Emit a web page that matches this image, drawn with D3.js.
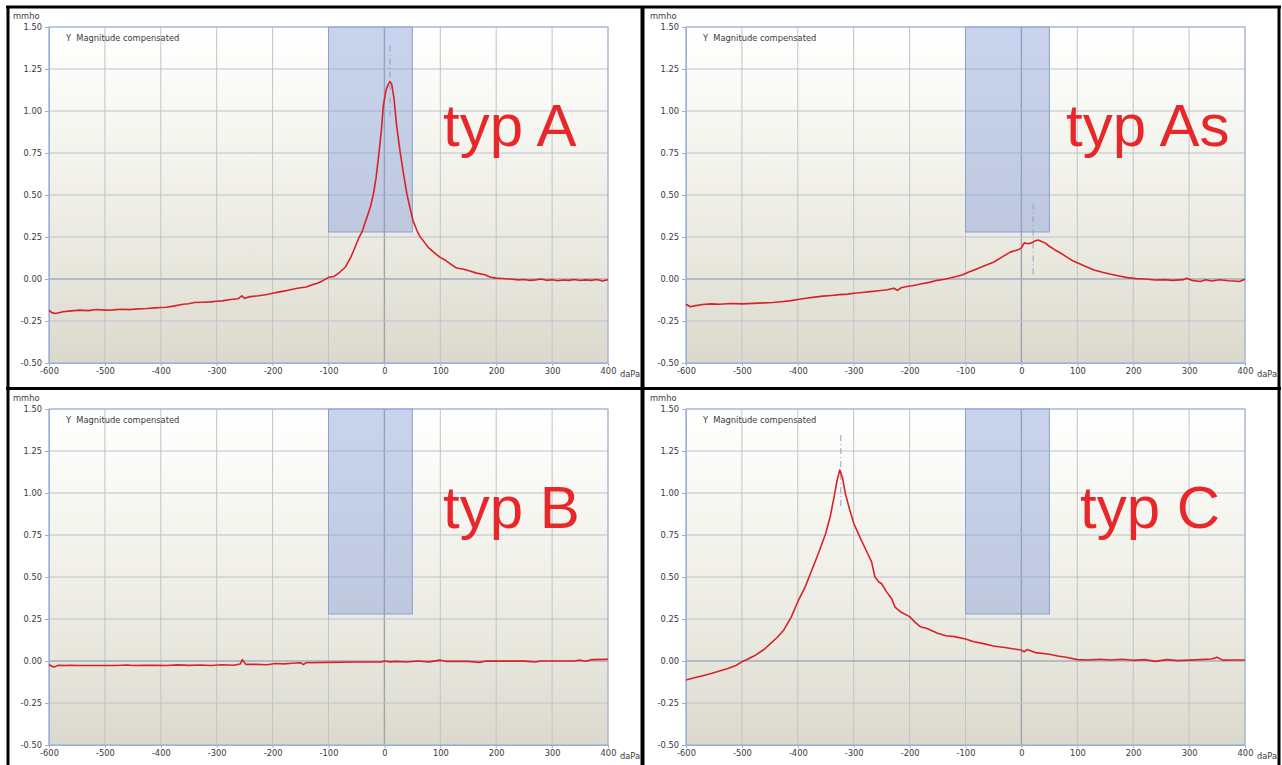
<!DOCTYPE html>
<html><head><meta charset="utf-8">
<script src="https://cdn.jsdelivr.net/npm/d3@7"></script>
<style>
html,body{margin:0;padding:0;background:#fff;}
svg{display:block;}
text{font-family:"DejaVu Sans",Verdana,sans-serif;}
</style></head>
<body>
<svg id="chart" width="1282" height="765"></svg>
<script>
// ---- axis ticks ----
const xTicks = [-600,-500,-400,-300,-200,-100,0,100,200,300,400];
const yTicks = [-0.50,-0.25,0.00,0.25,0.50,0.75,1.00,1.25,1.50];
const xDomain = [-600, 400];
const yDomain = [-0.5, 1.5];
const xUnit = "daPa";
const yUnit = "mmho";
const seriesName = "Y  Magnitude compensated";
const windowRange = [-100, 50];      // shaded pressure window
const windowLow = 0.28;              // lower edge of shaded window (mmho)

// ---- panel titles ----
const titles = ["typ A", "typ As", "typ B", "typ C"];

// ---- typ A ----
const pressureA = [-600,-595,-588,-575,-560,-545,-530,-515,-500,-485,-470,-455,-440,-425,-410,-400,-390,-375,-360,-350,-340,-325,-310,-300,-290,-275,-262,-255,-250,-240,-225,-210,-200,-190,-180,-170,-160,-150,-140,-130,-120,-110,-100,-90,-80,-70,-60,-55,-50,-45,-40,-35,-30,-25,-20,-15,-10,-5,-2,3,7,10,13,17,22,28,34,40,46,51,58,64,69,78,88,99,110,120,129,140,150,165,180,190,200,210,225,240,250,260,270,280,290,300,310,320,330,340,350,360,370,380,390,400];
const admitA = [-0.185,-0.200,-0.205,-0.195,-0.190,-0.185,-0.188,-0.182,-0.185,-0.184,-0.180,-0.182,-0.178,-0.176,-0.172,-0.170,-0.168,-0.160,-0.150,-0.147,-0.140,-0.138,-0.136,-0.132,-0.130,-0.122,-0.118,-0.100,-0.115,-0.105,-0.100,-0.092,-0.085,-0.078,-0.072,-0.065,-0.058,-0.052,-0.048,-0.035,-0.025,-0.010,0.010,0.015,0.040,0.070,0.130,0.170,0.210,0.250,0.280,0.330,0.380,0.430,0.500,0.600,0.740,0.900,1.030,1.125,1.160,1.175,1.160,1.080,0.910,0.760,0.630,0.510,0.420,0.350,0.290,0.250,0.230,0.190,0.160,0.130,0.110,0.085,0.065,0.060,0.050,0.035,0.025,0.010,0.005,0.003,0.000,-0.005,-0.003,-0.008,-0.005,0.000,-0.008,-0.004,-0.010,-0.006,-0.008,-0.003,-0.009,-0.005,-0.008,-0.003,-0.012,-0.005];
const peakA = [10, 1.39, 0.96];

// ---- typ As ----
const pressureAs = [-600,-592,-585,-570,-555,-540,-520,-500,-480,-460,-445,-430,-415,-400,-385,-370,-355,-340,-325,-310,-300,-285,-270,-255,-240,-228,-222,-215,-205,-195,-180,-165,-150,-135,-120,-105,-95,-80,-65,-50,-35,-20,-5,0,5,12,18,25,30,35,42,50,60,70,80,90,100,115,130,145,160,175,190,205,220,240,255,270,290,295,305,320,330,340,355,370,380,390,400];
const admitAs = [-0.150,-0.165,-0.160,-0.152,-0.148,-0.150,-0.146,-0.148,-0.145,-0.142,-0.140,-0.135,-0.130,-0.122,-0.115,-0.108,-0.102,-0.098,-0.093,-0.090,-0.085,-0.080,-0.075,-0.070,-0.064,-0.055,-0.068,-0.052,-0.045,-0.040,-0.030,-0.020,-0.008,0.000,0.012,0.025,0.040,0.060,0.080,0.100,0.130,0.160,0.175,0.185,0.215,0.210,0.215,0.228,0.232,0.225,0.215,0.195,0.173,0.155,0.133,0.112,0.097,0.075,0.054,0.040,0.028,0.018,0.008,0.002,0.000,-0.006,-0.004,-0.008,-0.004,0.005,-0.008,-0.015,-0.005,-0.012,-0.004,-0.010,-0.012,-0.015,-0.001];
const peakAs = [21, 0.45, 0.01];

// ---- typ B ----
const pressureB = [-600,-595,-590,-583,-570,-560,-550,-520,-500,-480,-460,-450,-430,-410,-390,-370,-350,-330,-310,-290,-270,-258,-254,-248,-230,-210,-195,-180,-165,-150,-145,-140,-100,-50,-5,0,10,20,40,60,80,100,110,150,170,180,250,270,280,340,350,360,370,400];
const admitB = [-0.020,-0.032,-0.035,-0.025,-0.027,-0.025,-0.027,-0.027,-0.027,-0.027,-0.024,-0.027,-0.026,-0.025,-0.027,-0.023,-0.026,-0.024,-0.027,-0.022,-0.025,-0.018,0.008,-0.020,-0.020,-0.022,-0.015,-0.017,-0.013,-0.010,-0.022,-0.010,-0.008,-0.006,-0.006,0.000,-0.005,-0.002,-0.006,0.000,-0.005,0.005,-0.002,-0.002,-0.008,-0.001,-0.001,-0.006,0.000,0.000,0.005,-0.002,0.008,0.010];
const peakB = null;

// ---- typ C ----
const pressureC = [-600,-585,-570,-555,-540,-525,-510,-500,-490,-475,-460,-450,-437,-425,-412,-400,-387,-375,-362,-350,-342,-335,-330,-325,-320,-315,-308,-300,-288,-275,-268,-262,-255,-250,-241,-232,-226,-215,-200,-190,-181,-170,-160,-150,-135,-120,-100,-85,-70,-50,-30,-10,0,5,10,25,50,65,80,100,120,140,160,180,200,220,240,260,280,300,320,340,350,360,380,400];
const admitC = [-0.113,-0.100,-0.088,-0.075,-0.060,-0.045,-0.025,-0.005,0.010,0.036,0.070,0.100,0.140,0.185,0.260,0.353,0.440,0.540,0.650,0.760,0.860,0.978,1.070,1.137,1.090,0.998,0.910,0.820,0.730,0.640,0.590,0.500,0.470,0.460,0.410,0.370,0.320,0.290,0.264,0.230,0.204,0.195,0.180,0.165,0.150,0.145,0.131,0.115,0.105,0.089,0.080,0.070,0.065,0.055,0.068,0.050,0.040,0.030,0.022,0.008,0.006,0.010,0.006,0.010,0.004,0.008,-0.002,0.008,0.002,0.005,0.008,0.012,0.022,0.005,0.006,0.006];
const peakC = [-323, 1.345, 0.91];

// ---- layout ----
const panels = [
  {x: pressureA, y: admitA, peak: peakA, title: titles[0], left: 49,  top: 27,  titleX: 443,  titleY: 146},
  {x: pressureAs,y: admitAs,peak: peakAs,title: titles[1], left: 686, top: 27,  titleX: 1066, titleY: 146},
  {x: pressureB, y: admitB, peak: peakB, title: titles[2], left: 49,  top: 409, titleX: 443,  titleY: 528},
  {x: pressureC, y: admitC, peak: peakC, title: titles[3], left: 686, top: 409, titleX: 1080, titleY: 528}
];
const plotW = 559, plotH = 336;

const svg = d3.select("#chart");
const defs = svg.append("defs");
const grad = defs.append("linearGradient").attr("id","bg").attr("x1",0).attr("y1",0).attr("x2",0).attr("y2",1);
grad.append("stop").attr("offset","0").attr("stop-color","#ffffff");
grad.append("stop").attr("offset","0.3").attr("stop-color","#f6f6f1");
grad.append("stop").attr("offset","0.7").attr("stop-color","#e9e8df");
grad.append("stop").attr("offset","1").attr("stop-color","#dbd9cd");

const fmtY = d => d.toFixed(2);          // hyphen-minus, as in the reference
const fmtX = d => String(d);

panels.forEach(p => {
  const x = d3.scaleLinear().domain(xDomain).range([p.left, p.left + plotW]);
  const y = d3.scaleLinear().domain(yDomain).range([p.top + plotH, p.top]);
  const g = svg.append("g");

  g.append("rect").attr("x", x(xDomain[0])).attr("y", y(yDomain[1]))
    .attr("width", x(xDomain[1]) - x(xDomain[0])).attr("height", y(yDomain[0]) - y(yDomain[1]))
    .attr("fill", "url(#bg)");

  // grid
  g.selectAll(".vg").data(xTicks).enter().append("line")
    .attr("x1", d => x(d)).attr("x2", d => x(d))
    .attr("y1", y(yDomain[0])).attr("y2", y(yDomain[1]))
    .attr("stroke", d => d === 0 ? "#9ea2ab" : "#c2c3c3").attr("stroke-width", d => d === 0 ? 1.4 : 1);
  g.selectAll(".hg").data(yTicks).enter().append("line")
    .attr("x1", x(xDomain[0])).attr("x2", x(xDomain[1]))
    .attr("y1", d => y(d)).attr("y2", d => y(d))
    .attr("stroke", d => d === 0 ? "#a4acbc" : "#bcc2cd").attr("stroke-width", d => d === 0 ? 1.4 : 1);

  // shaded window
  g.append("rect").attr("x", x(windowRange[0])).attr("y", y(yDomain[1]))
    .attr("width", x(windowRange[1]) - x(windowRange[0]))
    .attr("height", y(windowLow) - y(yDomain[1]))
    .attr("fill", "rgba(135,158,214,0.45)").attr("stroke", "#8a9fd2").attr("stroke-width", 1);

  // frame (blue)
  g.append("rect").attr("x", x(xDomain[0])).attr("y", y(yDomain[1]))
    .attr("width", x(xDomain[1]) - x(xDomain[0])).attr("height", y(yDomain[0]) - y(yDomain[1]))
    .attr("fill", "none").attr("stroke", "#9ab0dc").attr("stroke-width", 1);

  // axes
  const yAxis = d3.axisLeft(y).tickValues(yTicks).tickFormat(fmtY).tickSize(4).tickPadding(3);
  const ya = g.append("g").attr("transform", `translate(${x(xDomain[0])},0)`).call(yAxis);
  const xAxis = d3.axisBottom(x).tickValues(xTicks).tickFormat(fmtX).tickSize(3).tickPadding(2);
  const xa = g.append("g").attr("transform", `translate(0,${y(yDomain[0])})`).call(xAxis);
  [ya, xa].forEach(a => {
    a.select(".domain").attr("stroke", "#9ab0dc");
    a.selectAll(".tick line").attr("stroke", "#9ab0dc");
    a.selectAll("text").style("font-family", "DejaVu Sans, Verdana, sans-serif").attr("font-size", 8.3).attr("fill", "#3a3a3a");
  });
  g.append("text").attr("x", x(xDomain[1]) + 12).attr("y", y(yDomain[0]) + 14)
    .attr("font-size", 8.3).attr("fill", "#3a3a3a").text(xUnit);
  g.append("text").attr("x", x(xDomain[0]) - 36).attr("y", y(yDomain[1]) - 8)
    .attr("font-size", 8.3).attr("fill", "#3a3a3a").text(yUnit);
  g.append("text").attr("x", x(xDomain[0]) + 17).attr("y", y(yDomain[1]) + 14)
    .attr("font-size", 8.3).attr("fill", "#3a3a3a").style("white-space", "pre").text(seriesName);

  // peak marker
  if (p.peak) {
    g.append("line").attr("x1", x(p.peak[0])).attr("x2", x(p.peak[0]))
      .attr("y1", y(p.peak[1])).attr("y2", y(p.peak[2]))
      .attr("stroke", "#8aa0c8").attr("stroke-width", 1).attr("stroke-dasharray", "6,3,1,3");
  }

  // curve
  const pts = p.x.map((v, i) => [v, p.y[i]]);
  g.append("path").datum(pts)
    .attr("d", d3.line().x(d => x(d[0])).y(d => y(d[1])))
    .attr("fill", "none").attr("stroke", "#d8222a").attr("stroke-width", 1.6).attr("stroke-linejoin", "round");

  // title
  g.append("text").attr("x", p.titleX).attr("y", p.titleY)
    .style("font-family", "'Liberation Sans', Arial, sans-serif").attr("font-size", 60)
    .attr("fill", "#e8272b").text(p.title);
});

// black frame / dividers
const frame = svg.append("g").attr("stroke", "#000").attr("fill", "none");
frame.append("line").attr("x1", 8).attr("x2", 8).attr("y1", 6).attr("y2", 765).attr("stroke-width", 3);
frame.append("line").attr("x1", 6).attr("x2", 1281).attr("y1", 7).attr("y2", 7).attr("stroke-width", 3);
frame.append("line").attr("x1", 1279).attr("x2", 1279).attr("y1", 6).attr("y2", 765).attr("stroke-width", 3);
frame.append("line").attr("x1", 642.5).attr("x2", 642.5).attr("y1", 6).attr("y2", 765).attr("stroke-width", 4);
frame.append("line").attr("x1", 6).attr("x2", 1281).attr("y1", 388.5).attr("y2", 388.5).attr("stroke-width", 3);
</script>
</body></html>
